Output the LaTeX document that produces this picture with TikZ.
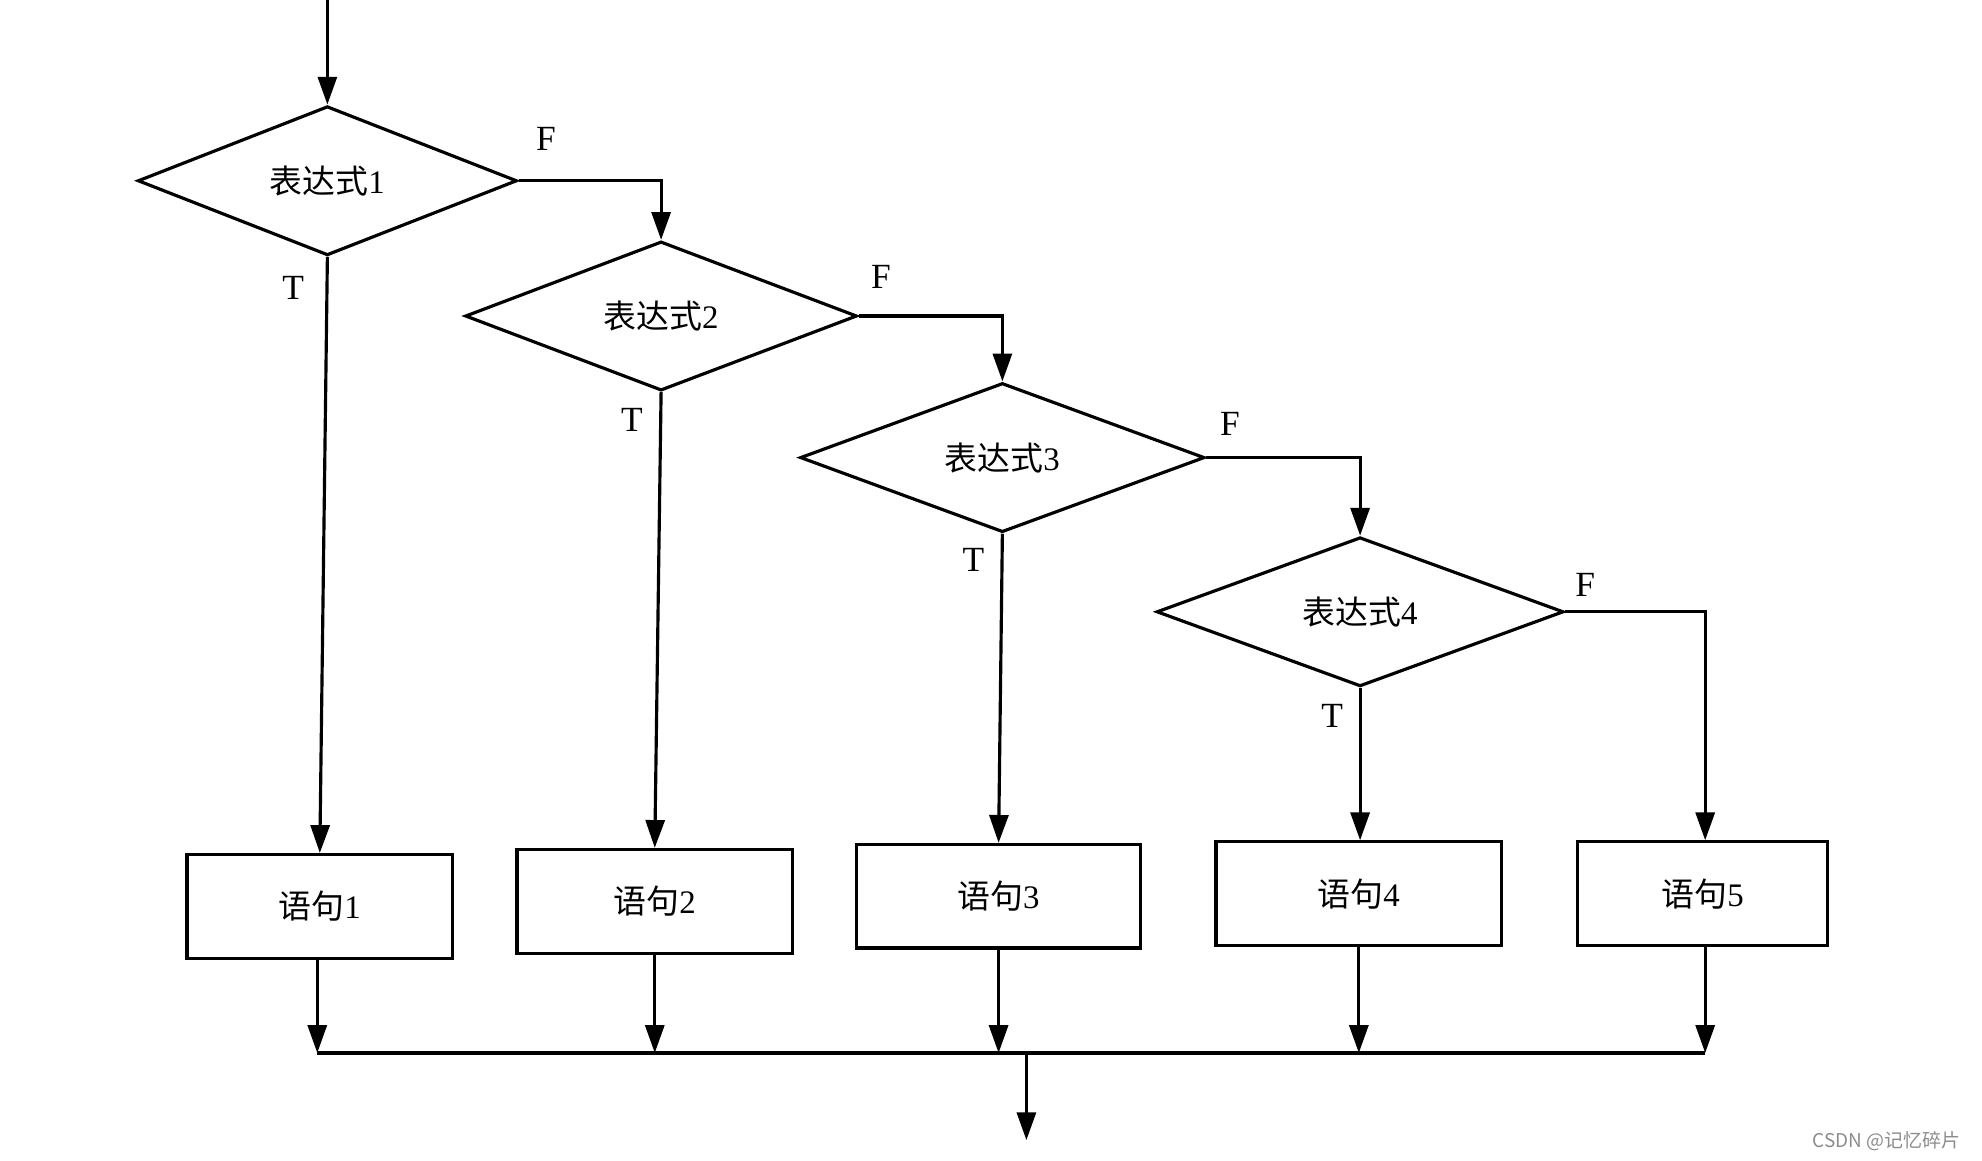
\documentclass[tikz,border=0pt]{standalone}
\usepackage{fontspec}
\setmainfont{Liberation Serif}
\newfontfamily\cjk{Noto Sans CJK SC}
\usetikzlibrary{shapes.geometric,arrows.meta}
\begin{document}
\begin{tikzpicture}[x=0.5pt,y=-0.5pt,
  line width=1.25pt,
  decision/.style={diamond,draw,inner sep=0pt,minimum width=#1*0.5pt,minimum height=118*0.5pt,font=\fontsize{13}{15}\selectfont},
  stmt/.style={rectangle,draw,inner sep=0pt,minimum width=#1*0.5pt,minimum height=82*0.5pt,font=\fontsize{13}{15}\selectfont},
  flow/.style={-{Triangle[length=11pt,width=7.5pt]}},
  lbl/.style={font=\fontsize{14}{16}\selectfont,inner sep=0pt}]
\useasboundingbox (0,0) rectangle (1568,918);
% decisions
\node[decision=300] (d1) at (259,143) {{\cjk 表达式}1};
\node[decision=310] (d2) at (523,250) {{\cjk 表达式}2};
\node[decision=320] (d3) at (793,362) {{\cjk 表达式}3};
\node[decision=322] (d4) at (1076,484) {{\cjk 表达式}4};
% statements
\node[stmt=210] (b1) at (253,717) {{\cjk 语句}1};
\node[stmt=218] (b2) at (518,713) {{\cjk 语句}2};
\node[stmt=225] (b3) at (790,709) {{\cjk 语句}3};
\node[stmt=226] (b4) at (1075,707) {{\cjk 语句}4};
\node[stmt=198] (b5) at (1347,707) {{\cjk 语句}5};
% entry
\coordinate (start) at (259,0);
\draw[flow] (start) -- (d1.north);
% false branches
\draw[flow] (d1.east) -| (d2.north);
\draw[flow] (d2.east) -| (d3.north);
\draw[flow] (d3.east) -| (d4.north);
\coordinate (f4) at (1349,484);
\draw[flow] (d4.east) -- (f4) -- (f4 |- b5.north);
% true branches
\draw[flow] (d1.south) -- (b1.north);
\draw[flow] (d2.south) -- (b2.north);
\draw[flow] (d3.south) -- (b3.north);
\draw[flow] (d4.south) -- (d4.south |- b4.north);
% labels
\node[lbl] (t1) at (232,228) {T};
\node[lbl] (t2) at (500,332) {T};
\node[lbl] (t3) at (770,443) {T};
\node[lbl] (t4) at (1054,566) {T};
\node[lbl] (fl1) at (432,110) {F};
\node[lbl] (fl2) at (697,219) {F};
\node[lbl] (fl3) at (973,335) {F};
\node[lbl] (fl4) at (1254,463) {F};
% merge
\coordinate (m1) at (251,833);
\coordinate (m2) at (b2.south |- m1);
\coordinate (m3) at (b3.south |- m1);
\coordinate (m4) at (b4.south |- m1);
\coordinate (m5) at (f4 |- m1);
\coordinate (m0) at (812,833);
\coordinate (exit) at (812,902);
\draw[flow] (b1.south -| m1) -- (m1);
\draw[flow] (b2.south) -- (m2);
\draw[flow] (b3.south) -- (m3);
\draw[flow] (b4.south) -- (m4);
\draw[flow] (b5.south -| m5) -- (m5);
\draw (m1) -- (m5);
\draw[flow] (m0) -- (exit);
% watermark
\node[anchor=east,text=black!45,inner sep=0pt,font=\cjk\fontsize{7.5}{9}\selectfont] (wm) at (1552,903) {CSDN @记忆碎片};
\end{tikzpicture}
\end{document}
